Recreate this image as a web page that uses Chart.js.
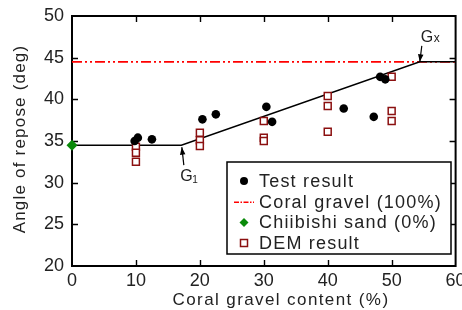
<!DOCTYPE html>
<html>
<head>
<meta charset="utf-8">
<script src="https://cdn.jsdelivr.net/npm/chart.js@4/dist/chart.umd.min.js"></script>
<style>
html, body { margin: 0; padding: 0; background: #fff; }
#wrap { width: 462px; height: 310px; }
</style>
</head>
<body>
<div id="wrap"><canvas id="myChart"></canvas></div>
<script>
// values
const testX = [9.8, 10.3, 12.5, 20.4, 22.5, 30.4, 31.3, 42.5, 47.2, 48.2, 49.0];
const testY = [35.0, 35.4, 35.2, 37.6, 38.2, 39.1, 37.3, 38.9, 37.9, 42.7, 42.4];
const demX = [10, 10, 10, 20, 20, 20, 30, 30, 30, 40, 40, 40, 50, 50, 50];
const demY = [34.3, 33.6, 32.5, 36.0, 35.1, 34.4, 37.4, 35.4, 35.0, 40.4, 39.2, 36.1, 42.7, 38.6, 37.4];
const sandX = [0];
const sandY = [34.5];
const coralX = [0, 60];
const coralY = [44.5, 44.5];
const fitX = [0, 17.1, 54.4, 60];
const fitY = [34.5, 34.5, 44.5, 44.5];
const xTicks = [0, 10, 20, 30, 40, 50, 60];
const yTicks = [20, 25, 30, 35, 40, 45, 50];
const g1 = [17.1, 34.5];
const gx = [54.4, 44.5];

const FONT = "'Liberation Sans', Arial, sans-serif";
const pts = (xs, ys) => xs.map((x, i) => ({x: x, y: ys[i]}));

// box + inward ticks on all four sides
const frame = {
    id: 'frame',
    beforeDatasetsDraw(chart) {
        const {ctx, chartArea: a, scales: {x, y}} = chart;
        ctx.save();
        ctx.strokeStyle = '#000';
        ctx.lineWidth = 1.4;
        ctx.beginPath();
        xTicks.slice(1, -1).forEach(v => {
            const px = Math.round(x.getPixelForValue(v)) + 0.5;
            ctx.moveTo(px, a.bottom); ctx.lineTo(px, a.bottom - 6);
            ctx.moveTo(px, a.top); ctx.lineTo(px, a.top + 6);
        });
        yTicks.slice(1, -1).forEach(v => {
            const py = Math.round(y.getPixelForValue(v)) + 0.5;
            ctx.moveTo(a.left, py); ctx.lineTo(a.left + 6, py);
            ctx.moveTo(a.right, py); ctx.lineTo(a.right - 6, py);
        });
        ctx.stroke();
        ctx.lineWidth = 2;
        ctx.strokeRect(a.left, a.top, a.right - a.left, a.bottom - a.top);
        ctx.restore();
    }
};

// axis titles, G labels, legend
const extras = {
    id: 'extras',
    afterDraw(chart) {
        const {ctx, chartArea: a, scales: {x, y}} = chart;
        ctx.save();
        ctx.fillStyle = '#222';
        ctx.font = '17px ' + FONT;
        ctx.letterSpacing = '1.4px';
        ctx.textAlign = 'center';
        ctx.textBaseline = 'middle';
        ctx.fillText('Coral gravel content (%)', a.left + 209, 300);
        ctx.save();
        ctx.translate(20, (a.top + a.bottom) / 2 - 2);
        ctx.rotate(-Math.PI / 2);
        ctx.letterSpacing = '1.2px';
        ctx.fillText('Angle of repose (deg)', 0, 0);
        ctx.restore();
        ctx.letterSpacing = '0px';

        // arrows
        const arrow = (x1, y1, x2, y2) => {
            ctx.strokeStyle = '#000';
            ctx.fillStyle = '#000';
            ctx.lineWidth = 1.2;
            ctx.beginPath(); ctx.moveTo(x1, y1); ctx.lineTo(x2, y2); ctx.stroke();
            const ang = Math.atan2(y2 - y1, x2 - x1);
            ctx.beginPath();
            ctx.moveTo(x2, y2);
            ctx.lineTo(x2 - 8 * Math.cos(ang - 0.35), y2 - 8 * Math.sin(ang - 0.35));
            ctx.lineTo(x2 - 8 * Math.cos(ang + 0.35), y2 - 8 * Math.sin(ang + 0.35));
            ctx.closePath(); ctx.fill();
        };
        const g1x = x.getPixelForValue(g1[0]), g1y = y.getPixelForValue(g1[1]);
        arrow(g1x + 2.5, g1y + 20, g1x + 0.5, g1y + 2);
        const gxx = x.getPixelForValue(gx[0]), gxy = y.getPixelForValue(gx[1]);
        arrow(gxx + 2, gxy - 16, gxx, gxy);

        ctx.fillStyle = '#222';
        ctx.textAlign = 'left';
        ctx.textBaseline = 'alphabetic';
        ctx.font = '16px ' + FONT;
        ctx.fillText('G', g1x - 1, g1y + 36);
        ctx.fillText('G', gxx + 1, gxy - 20);
        ctx.font = '10px ' + FONT;
        ctx.fillText('1', g1x + 11, g1y + 38);
        ctx.font = '12px ' + FONT;
        ctx.fillText('x', gxx + 14, gxy - 20);

        // legend
        const bx = a.left + 155, by = a.top + 146, bw = 224, bh = 92;
        ctx.fillStyle = '#fff';
        ctx.fillRect(bx, by, bw, bh);
        ctx.strokeStyle = '#000';
        ctx.lineWidth = 1.5;
        ctx.strokeRect(bx, by, bw, bh);
        const items = chart.data.datasets.filter(d => d.inLegend);
        items.forEach((d, i) => {
            const cy = by + 19 + i * 20.7;
            const mx = bx + 17;
            ctx.save();
            if (d.kind === 'line') {
                ctx.strokeStyle = d.borderColor;
                ctx.lineWidth = 1.5;
                ctx.setLineDash([5, 1.5, 1.5, 1.5]);
                ctx.beginPath(); ctx.moveTo(mx - 10, cy + 0.5); ctx.lineTo(mx + 10, cy + 0.5); ctx.stroke();
            } else {
                ctx.fillStyle = d.backgroundColor;
                ctx.strokeStyle = d.borderColor;
                ctx.lineWidth = d.borderWidth;
                ctx.beginPath();
                if (d.pointStyle === 'circle') {
                    ctx.arc(mx, cy, d.legendRadius, 0, Math.PI * 2);
                } else if (d.pointStyle === 'rect') {
                    ctx.rect(mx - 3.5, cy - 3.5, 7, 7);
                } else {
                    const r = d.legendRadius;
                    ctx.moveTo(mx, cy - r); ctx.lineTo(mx + r, cy); ctx.lineTo(mx, cy + r); ctx.lineTo(mx - r, cy);
                    ctx.closePath();
                }
                ctx.fill();
                if (d.borderWidth) ctx.stroke();
            }
            ctx.restore();
            ctx.fillStyle = '#222';
            ctx.font = '18px ' + FONT;
            ctx.letterSpacing = '1.2px';
            ctx.textBaseline = 'middle';
            ctx.fillText(d.label, bx + 32, cy + 1);
            ctx.letterSpacing = '0px';
        });
        ctx.restore();
    }
};

const ctx = document.getElementById('myChart').getContext('2d');
const myChart = new Chart(ctx, {
    type: 'scatter',
    data: {
        datasets: [
            {
                label: 'Test result',
                inLegend: true,
                data: pts(testX, testY),
                pointStyle: 'circle',
                pointRadius: 4.3,
                legendRadius: 4,
                backgroundColor: '#000',
                borderColor: '#000',
                borderWidth: 0,
                order: 1
            },
            {
                label: 'Coral gravel (100%)',
                inLegend: true,
                kind: 'line',
                type: 'line',
                data: pts(coralX, coralY),
                borderColor: '#ff0000',
                borderWidth: 1.6,
                borderDash: [10, 3, 2, 3, 2, 3],
                pointRadius: 0,
                fill: false,
                order: 5
            },
            {
                label: 'Chiibishi sand (0%)',
                inLegend: true,
                data: pts(sandX, sandY),
                pointStyle: 'rectRot',
                pointRadius: 5.5,
                legendRadius: 4.5,
                backgroundColor: '#0a8a0a',
                borderColor: '#0a8a0a',
                borderWidth: 0,
                clip: false,
                order: 0
            },
            {
                label: 'DEM result',
                inLegend: true,
                data: pts(demX, demY),
                pointStyle: 'rect',
                pointRadius: 4.9,
                legendRadius: 4.9,
                backgroundColor: '#fff',
                borderColor: '#8b1010',
                borderWidth: 1.5,
                order: 2
            },
            {
                label: 'fit',
                type: 'line',
                data: pts(fitX, fitY),
                borderColor: '#000',
                borderWidth: 1.5,
                pointRadius: 0,
                fill: false,
                order: 4
            }
        ]
    },
    options: {
        responsive: true,
        maintainAspectRatio: false,
        animation: false,
        events: [],
        layout: { padding: { top: 16, right: 6, left: 0, bottom: 0 } },
        plugins: {
            legend: { display: false },
            tooltip: { enabled: false }
        },
        scales: {
            x: {
                type: 'linear',
                min: 0,
                max: 60,
                afterBuildTicks: s => { s.ticks = xTicks.map(v => ({value: v})); },
                afterFit: s => { s.height = 44; s.paddingLeft = 0; s.paddingRight = 0; },
                grid: { display: false, drawTicks: false },
                border: { display: false },
                ticks: {
                    padding: 4,
                    maxRotation: 0,
                    color: '#222',
                    font: { family: FONT, size: 18 }
                }
            },
            y: {
                min: 20,
                max: 50,
                afterBuildTicks: s => { s.ticks = yTicks.map(v => ({value: v})); },
                afterFit: s => { s.width = 72; s.paddingTop = 0; s.paddingBottom = 0; },
                grid: { display: false, drawTicks: false },
                border: { display: false },
                ticks: {
                    padding: 8,
                    color: '#222',
                    font: { family: FONT, size: 18 }
                }
            }
        }
    },
    plugins: [frame, extras]
});
</script>
</body>
</html>
